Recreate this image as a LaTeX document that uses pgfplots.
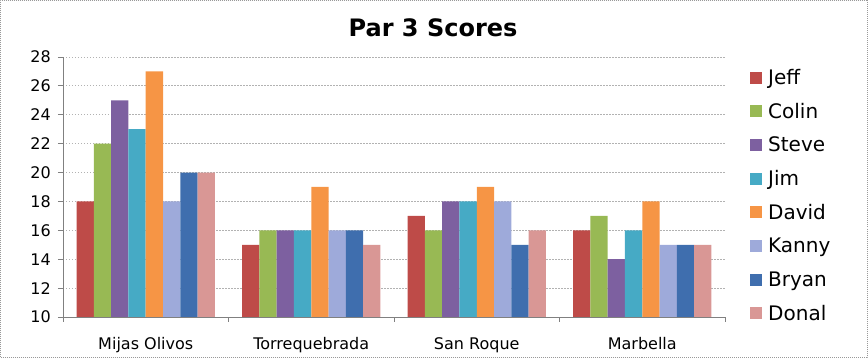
\documentclass[border=0pt]{standalone}
\usepackage{fontspec}
\setmainfont{DejaVu Sans}
\usepackage{pgfplots}
\pgfplotsset{compat=1.18}
\definecolor{cJeff}{HTML}{BE4B48}
\definecolor{cColin}{HTML}{98B954}
\definecolor{cSteve}{HTML}{7D60A0}
\definecolor{cJim}{HTML}{46AAC5}
\definecolor{cDavid}{HTML}{F69545}
\definecolor{cKanny}{HTML}{9EAADA}
\definecolor{cBryan}{HTML}{3F6EAE}
\definecolor{cDonal}{HTML}{D99795}
\pgfplotsset{mylegend/.style={legend image code/.code={\fill[##1] (0pt,-4.7pt) rectangle (12pt,7.3pt);}}}
\begin{document}
\begin{tikzpicture}
\useasboundingbox (-63pt,-41pt) rectangle (805pt,317pt);
\draw[gray!80, line width=1pt, dash pattern=on 1pt off 1pt] (-62.5pt,-40.5pt) rectangle (804.5pt,316.5pt);
\begin{axis}[
  scale only axis, width=662pt, height=260pt,
  ymin=10, ymax=28, ytick={10,12,...,28},
  xmin=-0.5, xmax=3.5,
  ybar=0pt, bar width=17.3pt,
  axis x line*=bottom, axis y line*=left,
  axis line style={color=gray, line width=0.8pt},
  xtick={0,1,2,3},
  xticklabels={Mijas Olivos, Torrequebrada, San Roque, Marbella},
  xtick style={draw=none},
  extra x ticks={-0.5,0.5,1.5,2.5,3.5},
  extra x tick labels={},
  extra x tick style={xtick style={draw=gray, line width=0.8pt}},
  tick align=outside, major tick length=5pt,
  ytick style={gray, line width=0.8pt},
  ymajorgrids,
  grid style={gray!60, dash pattern=on 1.5pt off 1.5pt, line width=0.8pt},
  tick label style={font=\fontsize{16}{19}\selectfont},
  /pgf/number format/assume math mode=true,
  yticklabel style={anchor=east, inner sep=0pt, xshift=-7pt},
  xticklabel style={anchor=base, inner sep=0pt, yshift=-28pt},
  title={Par 3 Scores},
  title style={font=\bfseries\fontsize{24}{28}\selectfont, at={(0.559,1)}, anchor=base, yshift=14pt, inner sep=0pt},
  legend style={draw=none, at={(1.0332,0.961)}, anchor=north west,
    font=\fontsize{20}{24}\selectfont, row sep=14.7pt, column sep=6pt,
    nodes={inner sep=0pt, text height=15pt, text depth=4pt}},
  legend cell align=left,
]
\addplot[fill=cJeff, draw=none, mylegend] coordinates {(0,18) (1,15) (2,17) (3,16)};
\addplot[fill=cColin, draw=none, mylegend] coordinates {(0,22) (1,16) (2,16) (3,17)};
\addplot[fill=cSteve, draw=none, mylegend] coordinates {(0,25) (1,16) (2,18) (3,14)};
\addplot[fill=cJim, draw=none, mylegend] coordinates {(0,23) (1,16) (2,18) (3,16)};
\addplot[fill=cDavid, draw=none, mylegend] coordinates {(0,27) (1,19) (2,19) (3,18)};
\addplot[fill=cKanny, draw=none, mylegend] coordinates {(0,18) (1,16) (2,18) (3,15)};
\addplot[fill=cBryan, draw=none, mylegend] coordinates {(0,20) (1,16) (2,15) (3,15)};
\addplot[fill=cDonal, draw=none, mylegend] coordinates {(0,20) (1,15) (2,16) (3,15)};
\legend{Jeff, Colin, Steve, Jim, David, Kanny, Bryan, Donal}
\end{axis}
\end{tikzpicture}
\end{document}
